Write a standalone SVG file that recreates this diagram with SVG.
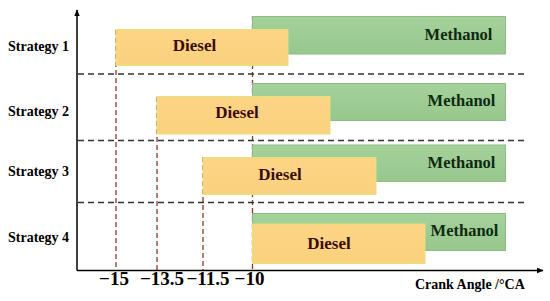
<svg xmlns="http://www.w3.org/2000/svg" width="550" height="301" viewBox="0 0 550 301">
<style>
.lbl{font-family:"Liberation Serif","Times New Roman",serif;font-weight:bold;fill:#000}
.st{font-size:14px}
.ds{font-size:17px;fill:#3a0c0c;text-anchor:middle}
.me{font-size:16.5px;fill:#0e2a12;text-anchor:middle}
.tk{font-size:19px;text-anchor:middle}
.diesel{fill:url(#gD);stroke:#e4e27a;stroke-width:1}
.meth{fill:url(#gM);stroke:#8fbb85;stroke-width:1}
.hd{stroke:#333;stroke-width:1.3;stroke-dasharray:6 4;fill:none}
.vd{stroke:#8e3b22;stroke-width:1.3;stroke-dasharray:5 3;fill:none}
.ax{stroke:#000;stroke-width:1.5;fill:none}
</style>
<defs>
<linearGradient id="gD" x1="0" y1="0" x2="0" y2="1">
<stop offset="0" stop-color="#fcd484"/>
<stop offset="1" stop-color="#fad27e"/>
</linearGradient>
<linearGradient id="gM" x1="0" y1="0" x2="0" y2="1">
<stop offset="0" stop-color="#a4d29a"/>
<stop offset="1" stop-color="#98c78e"/>
</linearGradient>
<marker id="arr" viewBox="0 0 10 10" refX="9" refY="5" markerWidth="7" markerHeight="7" orient="auto" markerUnits="userSpaceOnUse">
<path d="M0,1 L10,5 L0,9 Z" fill="#000"/>
</marker>
</defs>
<rect width="550" height="301" fill="#fff"/>
<g id="connectors">
<line class="vd" x1="116" y1="30" x2="116" y2="270"/>
<line class="vd" x1="157" y1="97" x2="157" y2="270"/>
<line class="vd" x1="203" y1="157" x2="203" y2="270"/>
<line class="vd" x1="252.5" y1="16" x2="252.5" y2="270"/>
<line class="hd" x1="78" y1="74" x2="524" y2="74"/>
<line class="hd" x1="78" y1="140.5" x2="524" y2="140.5"/>
<line class="hd" x1="78" y1="202.5" x2="524" y2="202.5"/>
<line class="ax" x1="77" y1="270.5" x2="77" y2="10" marker-end="url(#arr)"/>
<line class="ax" x1="77" y1="270.5" x2="543" y2="270.5" marker-end="url(#arr)"/>
</g>
<g id="strategy1">
<rect class="meth" x="252.5" y="16.5" width="253" height="37.5"/>
<rect class="diesel" x="116" y="29.5" width="172" height="36"/>
<text class="lbl st" x="8" y="51">Strategy 1</text>
<text class="lbl ds" x="194.5" y="51">Diesel</text>
<text class="lbl me" x="458.5" y="40">Methanol</text>
</g>
<g id="strategy2">
<rect class="meth" x="252.5" y="83.5" width="253" height="37"/>
<rect class="diesel" x="157" y="96.5" width="173" height="37.5"/>
<text class="lbl st" x="8" y="115.5">Strategy 2</text>
<text class="lbl ds" x="237" y="118">Diesel</text>
<text class="lbl me" x="461.5" y="106">Methanol</text>
</g>
<g id="strategy3">
<rect class="meth" x="252.5" y="145" width="253" height="36.5"/>
<rect class="diesel" x="203" y="157.5" width="173" height="37"/>
<text class="lbl st" x="8" y="176">Strategy 3</text>
<text class="lbl ds" x="280" y="180">Diesel</text>
<text class="lbl me" x="461.5" y="168">Methanol</text>
</g>
<g id="strategy4">
<rect class="meth" x="252.5" y="213.5" width="253" height="37"/>
<rect class="diesel" x="252.5" y="224" width="172.5" height="39.5"/>
<text class="lbl st" x="8" y="242">Strategy 4</text>
<text class="lbl ds" x="329" y="249">Diesel</text>
<text class="lbl me" x="464.5" y="236">Methanol</text>
</g>
<g id="axis-labels">
<text class="lbl tk" x="114" y="285">−15</text>
<text class="lbl tk" x="162" y="285">−13.5</text>
<text class="lbl tk" x="208" y="285">−11.5</text>
<text class="lbl tk" x="249.5" y="285">−10</text>
<text class="lbl" x="415" y="289" font-size="14">Crank Angle /°CA</text>
</g>
</svg>
